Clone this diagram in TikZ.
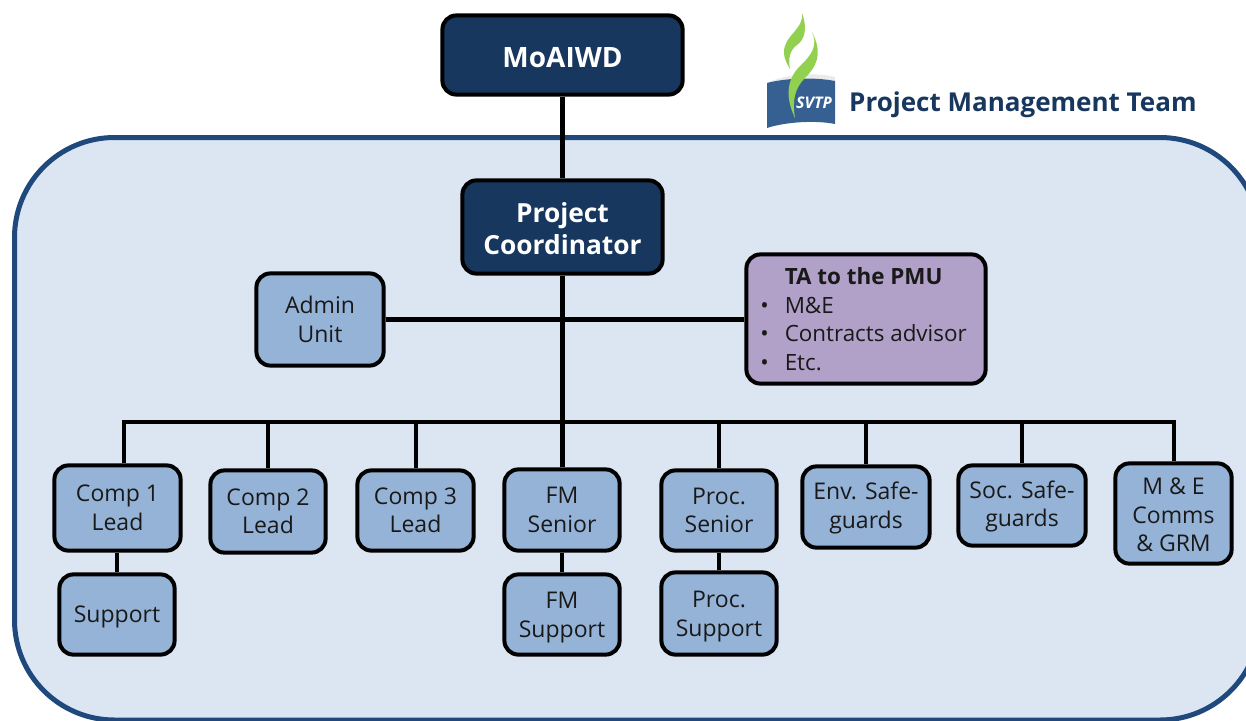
\documentclass[tikz,border=0pt]{standalone}
\usepackage{fontspec}
\setmainfont{Open Sans}
\definecolor{navy}{HTML}{17375E}
\definecolor{panelfill}{HTML}{DCE6F2}
\definecolor{panelline}{HTML}{1F497D}
\definecolor{boxblue}{HTML}{95B3D7}
\definecolor{boxpurple}{HTML}{B1A0C7}
\definecolor{logoblue}{HTML}{376092}
\definecolor{logogreen}{HTML}{92D050}
\tikzset{
  x=1pt,y=-1pt,
  base/.style={draw=black,line width=4pt,rounded corners=14pt,inner sep=0pt,align=center,anchor=north west},
  navybox/.style={base,fill=navy,text=white,font=\fontsize{26.3}{32}\selectfont\bfseries},
  topbox/.style={navybox,font=\fontsize{28}{32}\selectfont\bfseries},
  bluebox/.style={base,fill=boxblue,text=black!90,font=\fontsize{23}{28.5}\selectfont},
  purplebox/.style={base,fill=boxpurple,text=black!90,font=\fontsize{22.4}{28.5}\selectfont},
  link/.style={draw=black,line width=4.2pt},
}
\newcommand{\mybox}[7]{% style name x1 y1 x2 y2 text
  \node[#1,minimum width=#5pt-#3pt-2.8pt,minimum height=#6pt-#4pt-2.8pt] (#2) at (#3-0.6,#4-0.6) {#7};}
\newcommand{\hstrut}[1]{\rule{0pt}{#1pt}}
\begin{document}
\begin{tikzpicture}
\useasboundingbox (0,0) rectangle (1246,720);
\begin{scope}
  \clip (0,0) rectangle (1246,720);
  \fill[white] (0,0) rectangle (1246,720);
  \draw[draw=panelline,fill=panelfill,line width=5pt,rounded corners=100pt] (14.5,137.5) rectangle (1260,720);
\end{scope}
% logo
\fill[black!8] (767,83) .. controls (785,74) and (815,72) .. (835,77) -- (835,81) .. controls (815,77) and (785,78) .. (767,83) -- cycle;
\fill[logoblue] (767,83) .. controls (785,78) and (815,77) .. (835,81) -- (835,124) .. controls (815,120) and (785,122) .. (767,128) -- cycle;
\fill[logogreen] (802,13) .. controls (804,30) and (784,35) .. (784,52) .. controls (784,60) and (788,65) .. (790,69) .. controls (788,58) and (790,50) .. (797,45) .. controls (804,40) and (808,30) .. (802,13) -- cycle;
\fill[logogreen] (812,32) .. controls (818,45) and (812,55) .. (800,66) .. controls (788,78) and (784,95) .. (795,118) .. controls (792,100) and (795,88) .. (805,78) .. controls (815,68) and (824,55) .. (812,32) -- cycle;
\node[text=white,inner sep=0pt,font=\fontsize{16}{18}\selectfont\bfseries\itshape] (svtp) at (814,103) {SVTP};
\node[text=navy,inner sep=0pt,anchor=west,font=\fontsize{26}{30}\selectfont\bfseries] (title) at (849,105) {Project Management Team};
% boxes
\mybox{topbox}{moa}{441}{14}{684}{96}{\hstrut{26}MoAIWD}
\mybox{navybox}{pc}{461}{179}{664}{275}{\hstrut{24}Project\\Coordinator}
\mybox{bluebox}{admin}{255}{272}{385}{367}{Admin\\Unit}
\mybox{purplebox}{ta}{745}{253}{987}{385}{\begin{tabular}{@{}l@{}l@{}}\hstrut{26}\makebox[25.5pt][l]{} & \textbf{TA to the PMU}\\[0pt]\makebox[25.5pt][l]{\hspace{1pt}•} & M\&E\\[0pt]\makebox[25.5pt][l]{\hspace{1pt}•} & Contracts advisor\\[0pt]\makebox[25.5pt][l]{\hspace{1pt}•} & Etc.\end{tabular}\hspace{6pt}}
\mybox{bluebox}{ca}{53}{464}{182}{552}{Comp 1\\Lead}
\mybox{bluebox}{cb}{209}{469}{327}{554}{Comp 2\\Lead}
\mybox{bluebox}{cc}{356}{469}{475}{552}{Comp 3\\Lead}
\mybox{bluebox}{fm}{503}{468}{621}{552}{FM\\Senior}
\mybox{bluebox}{proc}{660}{469}{778}{552}{Proc.\\Senior}
\mybox{bluebox}{env}{801}{465}{931}{549}{\hstrut{20}Env. Safe-\\guards}
\mybox{bluebox}{soc}{957}{464}{1087}{547}{\hstrut{20}Soc. Safe-\\guards}
\mybox{bluebox}{me}{1114}{462}{1233}{565}{\hstrut{20}M \& E\\Comms\\\& GRM}
\mybox{bluebox}{sup}{58}{573}{176}{656}{\hstrut{21}Support}
\mybox{bluebox}{fms}{503}{573}{621}{656}{\hstrut{23}FM\\Support}
\mybox{bluebox}{procs}{660}{571}{778}{656}{\hstrut{23}Proc.\\Support}
% connectors
\coordinate (busl) at (124,422);
\coordinate (busr) at (1174,422);
\coordinate (bb) at (268,422);
\coordinate (bc) at (416,422);
\coordinate (bf) at (pc.south |- busl);
\coordinate (bp) at (719,422);
\coordinate (be) at (866,422);
\coordinate (bs) at (1022,422);
\draw[link] (moa.south) -- (pc.north);
\draw[link] (pc.south) -- (bf);
\draw[link] (admin.east) -- (admin.east -| ta.west);
\draw[link] (busl |- ca.north) -- (busl) -- (busr) -- (busr |- me.north);
\draw[link] (bb) -- (bb |- cb.north);
\draw[link] (bc) -- (bc |- cc.north);
\draw[link] (bf) -- (bf |- fm.north);
\draw[link] (bp) -- (bp |- proc.north);
\draw[link] (be) -- (be |- env.north);
\draw[link] (bs) -- (bs |- soc.north);
\draw[link] (sup.north) -- (sup.north |- ca.south);
\draw[link] (fm.south) -- (fms.north);
\draw[link] (procs.north) -- (procs.north |- proc.south);
\end{tikzpicture}
\end{document}
